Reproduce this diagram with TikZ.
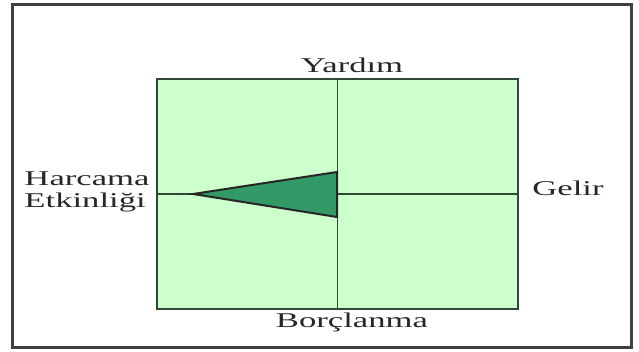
\documentclass[tikz,border=0pt]{standalone}
\usepackage{fontspec}
\setmainfont{Liberation Serif}[FakeStretch=1.65]
\usepackage{tikz}
\usetikzlibrary{positioning}
\definecolor{palegreen}{HTML}{CCFFCC}
\definecolor{axisgreen}{HTML}{2E4A36}
\definecolor{wedgegreen}{HTML}{339966}
\definecolor{frame}{HTML}{404040}
\tikzset{
    field/.style={draw=axisgreen,fill=palegreen,line width=1.8pt,
      minimum width=361pt,minimum height=230pt,inner sep=0pt,outer sep=0pt},
    axis/.style={draw=axisgreen,line width=1.8pt},
    wedge/.style={draw=black!85,fill=wedgegreen,line width=2pt,line join=miter},
    lbl/.style={font=\fontsize{21}{22}\selectfont,inner sep=1pt,align=left,text=black!85}
}
\begin{document}
\begin{tikzpicture}[x=1pt,y=-1pt]
  \useasboundingbox (0,0) rectangle (639,351);
  \draw[frame,line width=3pt] (12,4) rectangle (631,347);
  \node[field] (box) at (337.5,194) {};
  \draw[axis] (box.north) -- (box.south);
  \draw[axis] (box.west) -- (box.east);
  \coordinate (tip) at (193,194);
  \coordinate (wtop) at (337,172);
  \coordinate (wbot) at (337,217);
  \draw[wedge] (tip) -- (wtop) -- (wbot) -- cycle;
  \node[lbl] (yardim) at (352,65) {Yardım};
  \node[lbl] (borc) at (352,322) {Borçlanma};
  \node[lbl] (gelir) at (568,188) {Gelir};
  \node[lbl,align=left] (harcama) at (87,192) {Harcama\\Etkinliği};
\end{tikzpicture}
\end{document}
